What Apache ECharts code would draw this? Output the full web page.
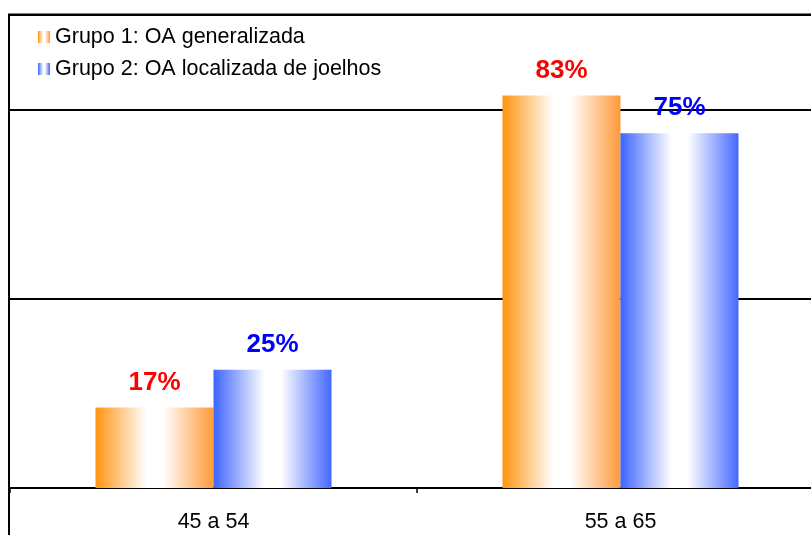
<!DOCTYPE html>
<html>
<head>
<meta charset="utf-8">
<style>
  html, body { margin: 0; padding: 0; background: #ffffff; overflow: hidden; }
  #chart { width: 830px; height: 535px; }
</style>
<script src="https://cdn.jsdelivr.net/npm/echarts@6/dist/echarts.min.js"></script>
</head>
<body>
<div id="chart"></div>
<script>
// Age bands and share (%) per group
const categories = ['45 a 54', '55 a 65'];
const grupo1 = [17, 83];
const grupo2 = [25, 75];
const seriesNames = ['Grupo 1: OA generalizada', 'Grupo 2: OA localizada de joelhos'];

const FONT = '"Liberation Sans", Arial, sans-serif';

function barGradient(edgeLeft, edgeRight) {
  return new echarts.graphic.LinearGradient(0, 0, 1, 0, [
    { offset: 0, color: edgeLeft },
    { offset: 0.43, color: '#ffffff' },
    { offset: 0.57, color: '#ffffff' },
    { offset: 1, color: edgeRight }
  ]);
}

const chart = echarts.init(document.getElementById('chart'), null, { renderer: 'canvas' });

chart.setOption({
  animation: false,
  backgroundColor: '#ffffff',
  textStyle: { fontFamily: FONT },
  graphic: [{
    type: 'rect',
    z: 100,
    silent: true,
    shape: { x: 9, y: 14.5, width: 900, height: 700 },
    style: { fill: 'none', stroke: '#000000', lineWidth: 2 }
  }],
  legend: {
    orient: 'vertical',
    left: 33,
    top: 21,
    itemGap: 10,
    itemWidth: 12,
    itemHeight: 12,
    icon: 'rect',
    textStyle: { fontFamily: FONT, fontSize: 21.5, color: '#000000' },
    data: seriesNames
  },
  grid: { left: 10, top: 15, right: 6, bottom: 47, containLabel: false },
  xAxis: {
    type: 'category',
    data: categories,
    axisLine: { show: true, lineStyle: { color: '#000000', width: 2 } },
    axisTick: { show: true, length: 5, lineStyle: { color: '#000000', width: 1.5 } },
    axisLabel: { fontFamily: FONT, fontSize: 21.5, color: '#000000', margin: 23 },
    splitLine: { show: false }
  },
  yAxis: {
    type: 'value',
    min: 0,
    max: 100,
    interval: 40,
    axisLine: { show: false },
    axisTick: { show: false },
    axisLabel: { show: false },
    splitLine: { show: true, lineStyle: { color: '#000000', width: 2 } }
  },
  series: [
    {
      name: seriesNames[0],
      type: 'bar',
      data: grupo1,
      barWidth: 118,
      barGap: '0%',
      itemStyle: { color: barGradient('#ff9410', '#ff9a3a') },
      label: {
        show: true,
        position: 'top',
        distance: 12,
        formatter: '{c}%',
        fontFamily: FONT,
        fontSize: 26,
        fontWeight: 'bold',
        color: '#ff0000'
      }
    },
    {
      name: seriesNames[1],
      type: 'bar',
      data: grupo2,
      barWidth: 118,
      barGap: '0%',
      itemStyle: { color: barGradient('#3c64ff', '#4468ff') },
      label: {
        show: true,
        position: 'top',
        distance: 12,
        formatter: '{c}%',
        fontFamily: FONT,
        fontSize: 26,
        fontWeight: 'bold',
        color: '#0000ff'
      }
    }
  ]
});
</script>
</body>
</html>
